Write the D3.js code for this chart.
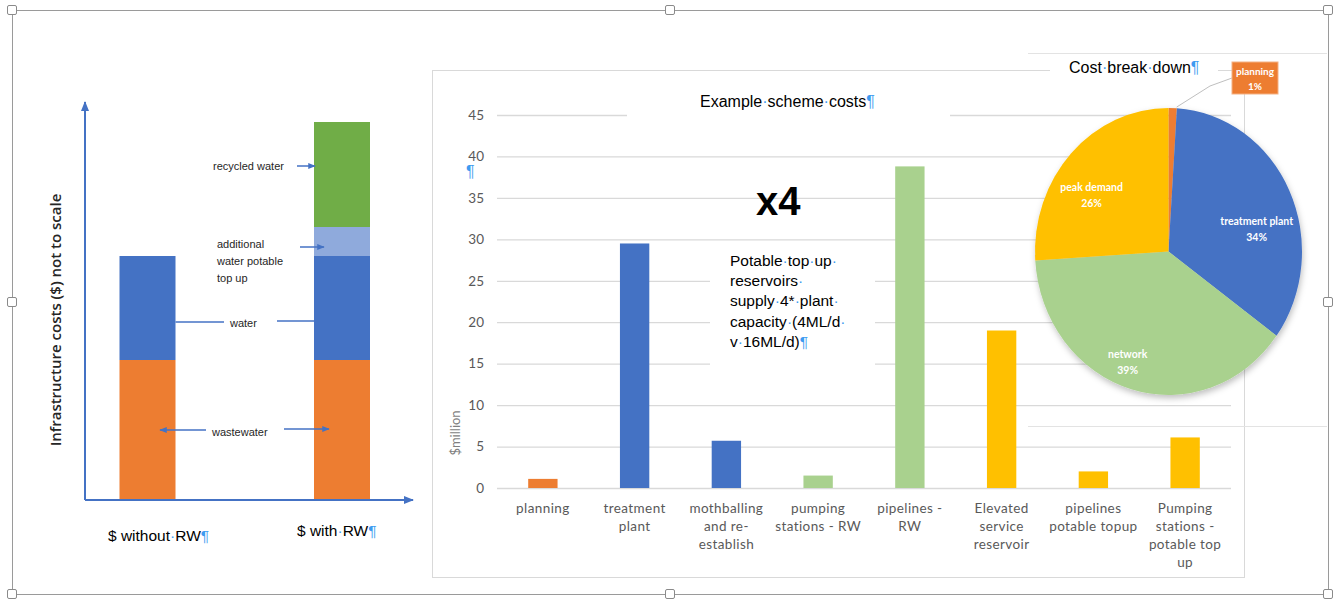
<!DOCTYPE html>
<html>
<head>
<meta charset="utf-8">
<script src="https://cdn.jsdelivr.net/npm/d3@7/dist/d3.min.js"></script>
<style>
  html, body { margin: 0; padding: 0; background: #fff; }
  svg { display: block; }
</style>
</head>
<body>
<svg id="chart" width="1340" height="599"></svg>
<script>
// ---------------- DATA ----------------
// Left illustrative chart (not to scale)
const leftCategories = ["$ without RW", "$ with RW"];
const leftSeries = ["wastewater", "water", "additional water potable top up", "recycled water"];
const leftWastewater = [140, 140];
const leftWater = [104, 104];
const leftAdditional = [0, 29];
const leftRecycled = [0, 105];

// Bar chart: Example scheme costs ($million)
const barCategories = [
  "planning", "treatment plant", "mothballing and re-establish", "pumping stations - RW",
  "pipelines - RW", "Elevated service reservoir", "pipelines potable topup", "Pumping stations - potable top up"
];
const barValues = [1.1, 29.5, 5.7, 1.5, 38.8, 19.0, 2.0, 6.1];
const barGroups = ["planning", "treatment plant", "treatment plant", "network", "network", "peak demand", "peak demand", "peak demand"];
const yTicks = [0, 5, 10, 15, 20, 25, 30, 35, 40, 45];

// Pie chart: Cost break down (%)
const pieCategories = ["planning", "treatment plant", "network", "peak demand"];
const pieValues = [1, 34, 39, 26];

// ---------------- STYLE / LAYOUT ----------------
const groupColor = d3.scaleOrdinal()
  .domain(["planning", "treatment plant", "network", "peak demand"])
  .range(["#ED7D31", "#4472C4", "#A9D18E", "#FFC000"]);
const leftColor = d3.scaleOrdinal().domain(leftSeries)
  .range(["#ED7D31", "#4472C4", "#8FAADC", "#70AD47"]);
const catLines = {
  "planning": ["planning"],
  "treatment plant": ["treatment", "plant"],
  "mothballing and re-establish": ["mothballing", "and re-", "establish"],
  "pumping stations - RW": ["pumping", "stations - RW"],
  "pipelines - RW": ["pipelines -", "RW"],
  "Elevated service reservoir": ["Elevated", "service", "reservoir"],
  "pipelines potable topup": ["pipelines", "potable topup"],
  "Pumping stations - potable top up": ["Pumping", "stations -", "potable top", "up"]
};
const PILCROW = "#3D9BF0";
const svg = d3.select("#chart");

const defs = svg.append("defs");
function arrowMarker(id) {
  defs.append("marker").attr("id", id).attr("viewBox", "0 0 10 10")
    .attr("refX", 9).attr("refY", 5).attr("markerWidth", 5).attr("markerHeight", 5)
    .attr("orient", "auto-start-reverse")
    .append("path").attr("d", "M0,1 L10,5 L0,9 z").attr("fill", "#4472C4");
}
arrowMarker("arr");
const sh = defs.append("filter").attr("id", "shadow").attr("x", "-20%").attr("y", "-20%").attr("width", "140%").attr("height", "140%");
sh.append("feDropShadow").attr("dx", 1).attr("dy", 3).attr("stdDeviation", 3).attr("flood-color", "#000").attr("flood-opacity", 0.25);

// ---------------- OUTER FRAME ----------------
const frame = svg.append("g");
frame.append("rect").attr("x", 12.5).attr("y", 10.5).attr("width", 1316).attr("height", 584)
  .attr("fill", "none").attr("stroke", "#9a9a9a").attr("stroke-width", 1);

// ---------------- LEFT CHART ----------------
const L = svg.append("g");
const lx = d3.scalePoint().domain(leftCategories).range([147.5, 342]);
const ly = d3.scaleLinear().domain([0, 400]).range([500, 100]);
const leftRows = leftCategories.map((c, i) => ({
  cat: c,
  "wastewater": leftWastewater[i],
  "water": leftWater[i],
  "additional water potable top up": leftAdditional[i],
  "recycled water": leftRecycled[i]
}));
const lstack = d3.stack().keys(leftSeries)(leftRows);
const lbw = 56;
L.selectAll("g.ls").data(lstack).join("g").attr("class", "ls")
  .attr("fill", d => leftColor(d.key))
  .selectAll("rect").data(d => d.filter(p => p[1] > p[0])).join("rect")
  .attr("x", d => lx(d.data.cat) - lbw / 2)
  .attr("width", lbw)
  .attr("y", d => ly(d[1]))
  .attr("height", d => ly(d[0]) - ly(d[1]));

// axes with arrows
L.append("line").attr("x1", 85).attr("y1", ly(0)).attr("x2", 85).attr("y2", 102)
  .attr("stroke", "#4472C4").attr("stroke-width", 2).attr("marker-end", "url(#arr)");
L.append("line").attr("x1", 85).attr("y1", ly(0)).attr("x2", 413).attr("y2", ly(0))
  .attr("stroke", "#4472C4").attr("stroke-width", 2).attr("marker-end", "url(#arr)");

L.append("text").attr("transform", "translate(61,320) rotate(-90)")
  .attr("text-anchor", "middle").attr("font-family", "'Open Sans', sans-serif")
  .attr("font-size", 15).attr("font-weight", 600).attr("fill", "#262626")
  .text("Infrastructure costs ($) not to scale");

const annFont = "'Liberation Sans Narrow', 'Arial Narrow', sans-serif";
function ann(x, y, t) {
  L.append("text").attr("x", x).attr("y", y).attr("font-family", annFont)
    .attr("font-size", 11).attr("fill", "#262626").text(t);
}
ann(213, 170, "recycled water");
ann(217, 248, "additional");
ann(217, 265, "water potable");
ann(217, 282, "top up");
ann(230, 327, "water");
ann(212, 436, "wastewater");
function arrowLine(x1, y1, x2, y2, head) {
  const l = L.append("line").attr("x1", x1).attr("y1", y1).attr("x2", x2).attr("y2", y2)
    .attr("stroke", "#4472C4").attr("stroke-width", 1.5);
  if (head) l.attr("marker-end", "url(#arr)");
}
const xw = lx(leftCategories[0]) + lbw / 2, xr = lx(leftCategories[1]) - lbw / 2;
arrowLine(297, 166, xr + 1, 166, true);
arrowLine(300, 247, xr + 10, 247, true);
arrowLine(xw, 322, 224, 322, false);
arrowLine(277, 321, xr, 321, false);
arrowLine(206, 430, 160, 430, true);
arrowLine(284, 429, xr + 15, 429, true);

function pilcrowLabel(parent, x, y, parts, size, anchor) {
  const t = parent.append("text").attr("x", x).attr("y", y)
    .attr("font-family", "'Liberation Sans', Arial, sans-serif").attr("font-size", size)
    .attr("fill", "#000").attr("text-anchor", anchor || "start");
  parts.forEach(p => {
    t.append("tspan").attr("fill", p.blue ? PILCROW : "#000").text(p.t);
  });
  return t;
}
pilcrowLabel(L, 108, 541, [{t: "$ without"}, {t: "·", blue: true}, {t: "RW"}, {t: "¶", blue: true}], 15.5);
pilcrowLabel(L, 297, 536, [{t: "$ with"}, {t: "·", blue: true}, {t: "RW"}, {t: "¶", blue: true}], 15.5);

// ---------------- BAR CHART ----------------
const B = svg.append("g");
B.append("rect").attr("x", 432.5).attr("y", 70.5).attr("width", 812).attr("height", 507)
  .attr("fill", "#fff").attr("stroke", "#d9d9d9");

const x = d3.scaleBand().domain(barCategories).range([497, 1231]).paddingInner(0.68).paddingOuter(0.34);
const y = d3.scaleLinear().domain([0, 45]).range([488, 115]);

const yAxis = d3.axisLeft(y).tickValues(yTicks).tickSize(-(1231 - 497)).tickPadding(13);
const ga = B.append("g").attr("transform", "translate(497,0)").call(yAxis);
ga.select(".domain").remove();
ga.selectAll(".tick line").attr("stroke", "#d9d9d9").attr("stroke-width", 1.3);
ga.selectAll(".tick text").attr("font-family", "Lato, sans-serif").attr("font-size", 13.5)
  .attr("fill", "#595959");

// pie background box lines (behind overlays)
B.append("line").attr("x1", 1028).attr("x2", 1327).attr("y1", 53.5).attr("y2", 53.5).attr("stroke", "#e3e3e3");
B.append("line").attr("x1", 1028).attr("x2", 1327).attr("y1", 426.5).attr("y2", 426.5).attr("stroke", "#e3e3e3");

// white text boxes covering gridlines
B.append("rect").attr("x", 627).attr("y", 84).attr("width", 323).attr("height", 42).attr("fill", "#fff");
B.append("rect").attr("x", 710).attr("y", 246).attr("width", 165).attr("height", 128).attr("fill", "#fff");
B.append("rect").attr("x", 1050).attr("y", 56).attr("width", 168).attr("height", 32).attr("fill", "#fff");

// bars
B.selectAll("rect.bar").data(barCategories).join("rect").attr("class", "bar")
  .attr("x", d => x(d)).attr("width", x.bandwidth())
  .attr("y", (d, i) => y(barValues[i]))
  .attr("height", (d, i) => y(0) - y(barValues[i]))
  .attr("fill", (d, i) => groupColor(barGroups[i]));

// category labels
const cl = B.selectAll("text.cat").data(barCategories).join("text").attr("class", "cat")
  .attr("text-anchor", "middle").attr("font-family", "Lato, sans-serif").attr("font-size", 13.5)
  .attr("fill", "#595959").attr("letter-spacing", 0.4);
cl.each(function(d) {
  const t = d3.select(this);
  catLines[d].forEach((ln, i) => {
    t.append("tspan").attr("x", x(d) + x.bandwidth() / 2).attr("y", 513 + i * 18).text(ln);
  });
});

// y title
B.append("text").attr("transform", "translate(460,433) rotate(-90)").attr("text-anchor", "middle")
  .attr("font-family", "Lato, sans-serif").attr("font-size", 13).attr("fill", "#7f7f7f").text("$million");
B.append("text").attr("x", 466).attr("y", 177).attr("font-family", "'Liberation Sans', sans-serif")
  .attr("font-size", 16).attr("fill", PILCROW).text("¶");

// title
pilcrowLabel(B, 700, 107, [{t: "Example"}, {t: "·", blue: true}, {t: "scheme"}, {t: "·", blue: true}, {t: "costs"}, {t: "¶", blue: true}], 16);

// x4
B.append("text").attr("x", 756).attr("y", 215).attr("font-family", "'Liberation Sans', Arial, sans-serif")
  .attr("font-size", 40).attr("font-weight", 700).attr("fill", "#000").text("x4");

// note text
const noteLines = [
  [{t: "Potable"}, {t: "·", blue: true}, {t: "top"}, {t: "·", blue: true}, {t: "up"}, {t: "·", blue: true}],
  [{t: "reservoirs"}, {t: "·", blue: true}],
  [{t: "supply"}, {t: "·", blue: true}, {t: "4*"}, {t: "·", blue: true}, {t: "plant"}, {t: "·", blue: true}],
  [{t: "capacity"}, {t: "·", blue: true}, {t: "(4ML/d"}, {t: "·", blue: true}],
  [{t: "v"}, {t: "·", blue: true}, {t: "16ML/d)"}, {t: "¶", blue: true}]
];
noteLines.forEach((parts, i) => pilcrowLabel(B, 730, 266 + i * 20.2, parts, 15.5));

// ---------------- PIE ----------------
const P = svg.append("g").attr("transform", "translate(1168.5,251.5) scale(1,1.075)");
const R = 133.5;
const pie = d3.pie().sort(null).value(d => d.v);
const arcs = pie(pieCategories.map((c, i) => ({c, v: pieValues[i]})));
const arc = d3.arc().innerRadius(0).outerRadius(R);
P.append("g").attr("filter", "url(#shadow)").selectAll("path").data(arcs).join("path")
  .attr("d", arc).attr("fill", d => groupColor(d.data.c));

const labelR = {"treatment plant": 0.68, "network": 0.82, "peak demand": 0.7};
const labelA = {"treatment plant": 0.2, "network": 0.1, "peak demand": -0.15};
arcs.filter(d => d.data.c !== "planning").forEach(d => {
  const a = (d.startAngle + d.endAngle) / 2 + labelA[d.data.c];
  const r = R * labelR[d.data.c];
  const px = 1168.5 + Math.sin(a) * r, py = 251.5 - Math.cos(a) * r * 1.075;
  const t = svg.append("text").attr("text-anchor", "middle").attr("font-family", "Lato, sans-serif")
    .attr("font-size", 10.5).attr("font-weight", 700).attr("fill", "#fff");
  t.append("tspan").attr("x", px).attr("y", py - 3).text(d.data.c);
  t.append("tspan").attr("x", px).attr("y", py + 13).text(d.data.v + "%");
});

// planning callout
const pArc = arcs[0];
const pa = (pArc.startAngle + pArc.endAngle) / 2;
const tipX = 1168.5 + Math.sin(pa) * R + 4, tipY = 251.5 - Math.cos(pa) * R * 1.075 - 1;
svg.append("polyline").attr("points", `${tipX},${tipY} 1210,86 1232,78`)
  .attr("fill", "none").attr("stroke", "#bfbfbf").attr("stroke-width", 1);
svg.append("rect").attr("x", 1232).attr("y", 62).attr("width", 46).attr("height", 32)
  .attr("fill", groupColor("planning")).attr("stroke", "#f4b183");
const pt = svg.append("text").attr("text-anchor", "middle").attr("font-family", "Lato, sans-serif")
  .attr("font-size", 10).attr("font-weight", 700).attr("fill", "#fff");
pt.append("tspan").attr("x", 1255).attr("y", 75).text(pArc.data.c);
pt.append("tspan").attr("x", 1255).attr("y", 90).text(pArc.data.v + "%");

pilcrowLabel(svg, 1069, 73, [{t: "Cost"}, {t: "·", blue: true}, {t: "break"}, {t: "·", blue: true}, {t: "down"}, {t: "¶", blue: true}], 16);

// ---------------- HANDLES ----------------
const handles = [[12,10],[670,10],[1328,10],[12,302],[1328,302],[12,594],[670,594],[1328,594]];
svg.append("g").selectAll("rect").data(handles).join("rect")
  .attr("x", d => d[0] - 4.5).attr("y", d => d[1] - 4.5).attr("width", 9).attr("height", 9)
  .attr("rx", 1.5).attr("fill", "#fff").attr("stroke", "#8a8a8a");
</script>
</body>
</html>
